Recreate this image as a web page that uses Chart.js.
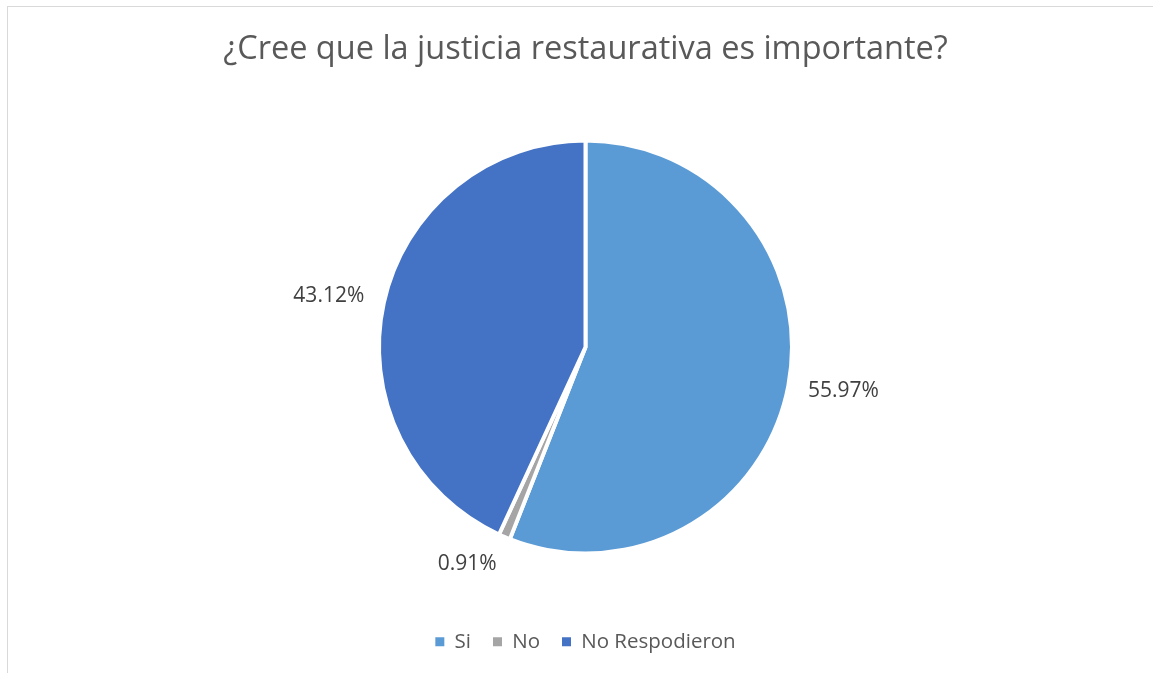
<!DOCTYPE html>
<html>
<head>
<meta charset="utf-8">
<script src="https://cdn.jsdelivr.net/npm/chart.js@4"></script>
<style>
  html, body { margin: 0; padding: 0; background: #fff; }
  .wrapper { position: relative; width: 1153px; height: 673px; overflow: hidden; }
  .marco { position: absolute; left: 7px; top: 6px; width: 1200px; height: 700px; border: 1px solid #d9d9d9; box-sizing: border-box; }
  canvas { position: absolute; left: 0; top: 0; }
</style>
</head>
<body>
<div class="wrapper">
  <div class="marco"></div>
  <canvas id="grafico" width="1153" height="673"></canvas>
</div>
<script>
// Respuestas de la encuesta
const categorias = ['Si', 'No', 'No Respodieron'];
const porcentajes = [55.97, 0.91, 43.12];
const colores = ['#5B9BD5', '#A5A5A5', '#4472C4'];
const titulo = '¿Cree que la justicia restaurativa es importante?';

const fuente = "'Open Sans', 'Noto Sans', sans-serif";

// Etiquetas fuera del pastel, al estilo de Excel
const etiquetasFuera = {
  id: 'etiquetasFuera',
  afterDatasetsDraw(chart) {
    const ctx = chart.ctx;
    const meta = chart.getDatasetMeta(0);
    ctx.save();
    ctx.font = '21px ' + fuente;
    ctx.fillStyle = '#404040';
    ctx.textAlign = 'center';
    ctx.textBaseline = 'middle';
    meta.data.forEach((arco, i) => {
      const medio = (arco.startAngle + arco.endAngle) / 2;
      const dx = Math.cos(medio), dy = Math.sin(medio);
      const texto = porcentajes[i].toFixed(2) + '%';
      const w = ctx.measureText(texto).width;
      const h = 20;
      const r = arco.outerRadius + 20;
      const x = arco.x + r * dx + Math.sign(dx) * w / 2;
      const y = arco.y + r * dy + dy * h / 2;
      ctx.fillText(texto, x, y);
    });
    ctx.restore();
  }
};

const ctx = document.getElementById('grafico').getContext('2d');
new Chart(ctx, {
  type: 'pie',
  data: {
    labels: categorias,
    datasets: [{
      data: porcentajes,
      backgroundColor: colores,
      borderColor: '#ffffff',
      borderWidth: 4,
      radius: 206.5
    }]
  },
  options: {
    responsive: false,
    animation: false,
    layout: { padding: { left: 18, right: 0, top: 0, bottom: 11 } },
    plugins: {
      title: {
        display: true,
        text: titulo,
        color: '#595959',
        font: { family: fuente, size: 32.5, weight: 'normal' },
        padding: { top: 30.5, bottom: 15 }
      },
      legend: {
        position: 'bottom',
        labels: {
          color: '#595959',
          font: { family: fuente, size: 20.5 },
          boxWidth: 9,
          boxHeight: 9,
          padding: 22,
          // cuadros sin borde blanco
          generateLabels(chart) {
            return Chart.overrides.pie.plugins.legend.labels.generateLabels(chart)
              .map(item => ({ ...item, lineWidth: 0 }));
          }
        }
      },
      tooltip: { enabled: false }
    }
  },
  plugins: [etiquetasFuera]
});
</script>
</body>
</html>
